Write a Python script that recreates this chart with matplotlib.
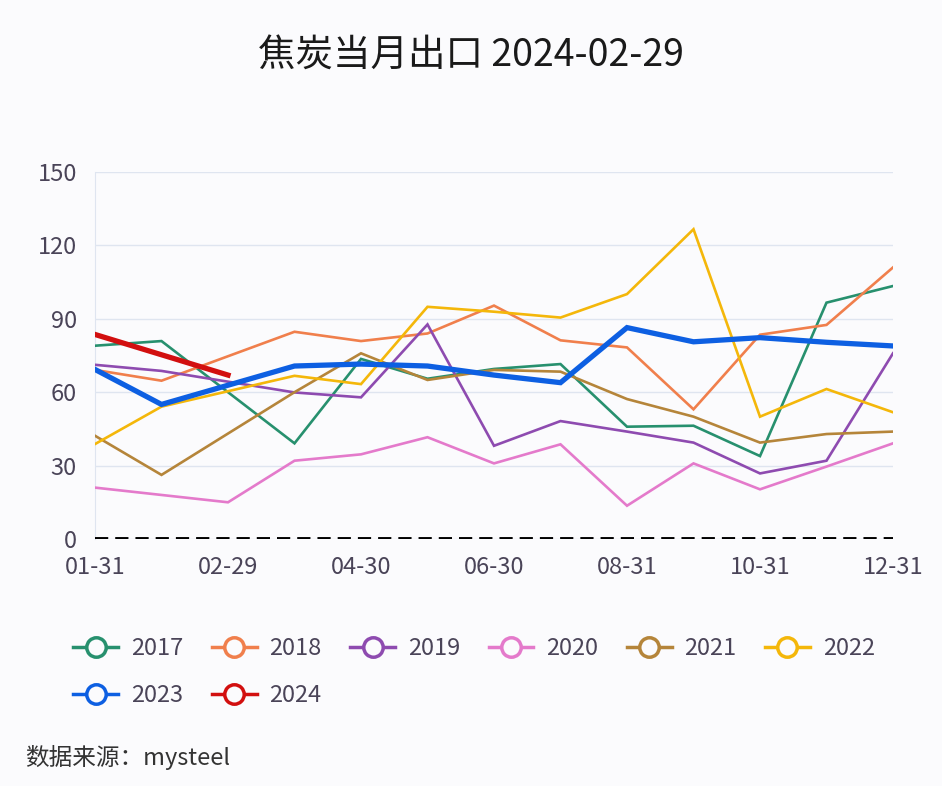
import numpy as np
import matplotlib.pyplot as plt
from matplotlib.lines import Line2D

plt.rcParams['font.family'] = ['Noto Sans CJK SC', 'DejaVu Sans']

# 13 categories: non-leap years use 02-28, leap years use 02-29
dates = ['01-31', '02-28', '02-29', '03-31', '04-30', '05-31', '06-30',
         '07-31', '08-31', '09-30', '10-31', '11-30', '12-31']
N = None
y2017 = [79.0, 80.9, N, 39.1, 73.6, 65.5, 69.5, 71.5, 45.9, 46.3, 33.9, 96.6, 103.4]
y2018 = [69.1, 64.7, N, 84.7, 80.9, 84.0, 95.4, 81.2, 78.3, 53.0, 83.5, 87.5, 111.0]
y2019 = [71.2, 68.7, N, 59.9, 57.9, 87.7, 38.1, 48.2, 43.9, 39.4, 26.8, 32.0, 75.9]
y2020 = [21.0, N, 15.0, 32.0, 34.6, 41.6, 30.9, 38.7, 13.6, 30.9, 20.3, 29.6, 39.1]
y2021 = [42.2, 26.2, N, 60.0, 75.9, 65.0, 69.1, 68.4, 57.2, 50.0, 39.4, 42.9, 43.9]
y2022 = [38.8, 54.1, N, 66.7, 63.3, 94.9, 92.9, 90.5, 100.1, 126.6, 50.0, 61.3, 51.8]
y2023 = [69.3, 55.0, N, 70.7, 71.5, 70.7, 67.0, 63.9, 86.4, 80.6, 82.3, 80.4, 78.9]
y2024 = [83.6, N, 67.0, N, N, N, N, N, N, N, N, N, N]

years = ['2017', '2018', '2019', '2020', '2021', '2022', '2023', '2024']
series = [y2017, y2018, y2019, y2020, y2021, y2022, y2023, y2024]
colors = ['#27906e', '#f07f4c', '#8e4bb0', '#e47acb', '#b5853a', '#f4b70a', '#0d5fe2', '#d20f0f']
widths = [1.9, 1.9, 1.9, 1.9, 1.9, 1.9, 3.8, 3.8]

bg = '#fbfbfd'
txt = '#4a4458'
fig = plt.figure(figsize=(9.42, 7.86), dpi=100, facecolor=bg)
ax = fig.add_axes([95 / 942, 1 - 539 / 786, (893 - 95) / 942, (539 - 172) / 786])
ax.set_facecolor(bg)

x = np.arange(len(dates))
for vals, c, w, lab in zip(series, colors, widths, years):
    # connect across missing dates
    xs = [i for i, v in enumerate(vals) if v is not None]
    ys = [v for v in vals if v is not None]
    ax.plot(xs, ys, color=c, lw=w, label=lab, solid_joinstyle='miter', zorder=3)

ax.axhline(0, color='black', lw=2.8, ls=(0, (3.4, 1.8)), zorder=4)

ax.set_xlim(0, 12)
ax.set_ylim(0, 150)
ax.set_yticks([0, 30, 60, 90, 120, 150])
ax.set_xticks(x[::2])
ax.set_xticklabels([dates[0]] + dates[2::2])
ax.grid(axis='y', color='#dfe5f0', lw=1, zorder=0)
for s in ['top', 'right', 'bottom']:
    ax.spines[s].set_visible(False)
ax.spines['left'].set_color('#dfe5f0')
ax.tick_params(length=0, labelsize=17, labelcolor=txt)
ax.tick_params(axis='x', pad=12)
ax.tick_params(axis='y', pad=13)

fig.text(0.5, 1 - 56 / 786, '焦炭当月出口 2024-02-29', ha='center', va='center',
         fontsize=27, color='#1a1a1a')

# reorder so the legend fills row by row (6 columns)
order = [0, 6, 1, 7, 2, 3, 4, 5]
handles = [Line2D([0], [0], color=colors[i], lw=2.5, marker='o', markersize=14,
                  markerfacecolor=bg, markeredgewidth=2.5, markeredgecolor=colors[i])
           for i in order]
fig.legend(handles, [years[i] for i in order], loc='upper left',
           bbox_to_anchor=(52 / 942, 1 - 616 / 786),
           ncol=6, frameon=False, fontsize=17, handlelength=1.9, handletextpad=0.55,
           columnspacing=1.2, labelspacing=1.0, labelcolor=txt)

fig.text(25 / 942, 1 - 757 / 786, '数据来源：mysteel', ha='left', va='center',
         fontsize=17, color='#333333')

fig.savefig('out.png', dpi=100, facecolor=bg)
